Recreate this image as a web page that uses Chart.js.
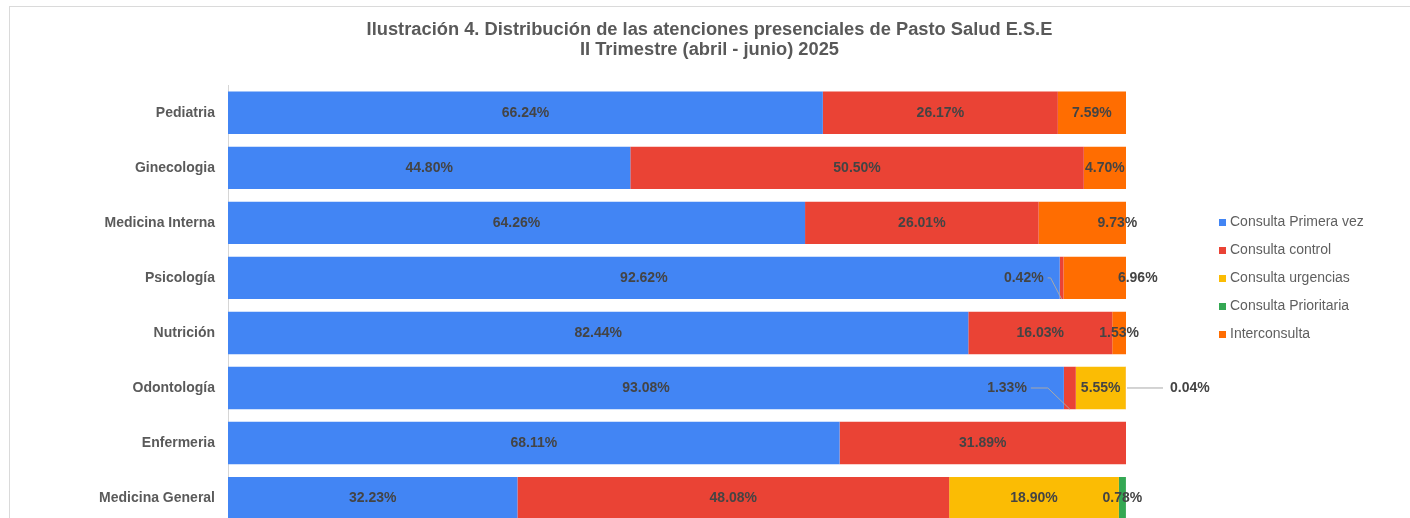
<!DOCTYPE html>
<html lang="es">
<head>
<meta charset="utf-8">
<title>Distribución de las atenciones presenciales</title>
<script src="https://cdn.jsdelivr.net/npm/chart.js@4.4.1/dist/chart.umd.min.js"></script>
<style>
  html, body { margin: 0; padding: 0; overflow: hidden; background: #fff; }
  #frame { position: absolute; left: 9px; top: 6px; width: 1401px; height: 540px;
           border-top: 1px solid #dadada; border-left: 1px solid #dadada; }
  #chart { position: absolute; left: 0; top: 0; }
</style>
</head>
<body>
<div id="frame"></div>
<canvas id="chart" width="1410" height="547"></canvas>
<script>
// -------------------- Data --------------------
const categories = ['Pediatria', 'Ginecologia', 'Medicina Interna', 'Psicología',
  'Nutrición', 'Odontología', 'Enfermeria', 'Medicina General'];

const primeraVez    = [66.24, 44.80, 64.26, 92.62, 82.44, 93.08, 68.11, 32.23];
const control       = [26.17, 50.50, 26.01, 0.42, 16.03, 1.33, 31.89, 48.08];
const urgencias     = [null, null, null, null, null, 5.55, null, 18.90];
const prioritaria   = [null, null, null, null, null, null, null, 0.78];
const interconsulta = [7.59, 4.70, 9.73, 6.96, 1.53, 0.04, null, null];

const seriesNames = ['Consulta Primera vez', 'Consulta control', 'Consulta urgencias',
  'Consulta Prioritaria', 'Interconsulta'];
const seriesValues = [primeraVez, control, urgencias, prioritaria, interconsulta];
const seriesColors = ['#4285F4', '#EA4335', '#FBBC04', '#34A853', '#FF6D01'];

const FONT = '"Liberation Sans", Arial, sans-serif';

// -------------------- Label placement tweaks --------------------
// key = datasetIndex:categoryIndex
const nudges = { '4:2': 35, '4:3': 43 };
const callouts = {
  '1:3': { side: 'left', dx: -18, elbow: -11 },
  '1:5': { side: 'left', dx: -43, elbow: -22 },
  '4:5': { side: 'right', len: 37 }
};

// -------------------- Plugins --------------------
const segmentLabels = {
  id: 'segmentLabels',
  afterDatasetsDraw(chart) {
    const ctx = chart.ctx;
    ctx.save();
    ctx.font = 'bold 14px ' + FONT;
    ctx.textBaseline = 'middle';
    ctx.strokeStyle = '#a8a8a8';
    ctx.lineWidth = 1;
    chart.data.datasets.forEach((ds, di) => {
      const meta = chart.getDatasetMeta(di);
      meta.data.forEach((bar, i) => {
        const v = ds.data[i];
        if (v == null) return;
        const { x, y, base, height } = bar.getProps(['x', 'y', 'base', 'height'], true);
        const mid = (x + base) / 2;
        const text = v.toFixed(2) + '%';
        const key = di + ':' + i;
        const c = callouts[key];
        ctx.fillStyle = '#444';
        if (c && c.side === 'left') {
          const right = mid + c.dx;
          ctx.beginPath();
          ctx.moveTo(right + 4, y);
          ctx.lineTo(mid + c.elbow, y);
          ctx.lineTo(mid, y + height / 2);
          ctx.stroke();
          ctx.textAlign = 'right';
          ctx.fillText(text, right, y);
        } else if (c && c.side === 'right') {
          const end = Math.max(x, base);
          ctx.beginPath();
          ctx.moveTo(end + 1, y);
          ctx.lineTo(end + c.len, y);
          ctx.stroke();
          ctx.textAlign = 'left';
          ctx.fillText(text, end + c.len + 7, y);
        } else {
          ctx.textAlign = 'center';
          ctx.fillText(text, mid + (nudges[key] || 0), y);
        }
      });
    });
    ctx.restore();
  }
};

const sideLegend = {
  id: 'sideLegend',
  afterDraw(chart) {
    const { ctx, chartArea } = chart;
    const x = chartArea.right + 93;
    let y = chartArea.top + 137;
    ctx.save();
    ctx.font = '14px ' + FONT;
    ctx.textBaseline = 'middle';
    ctx.textAlign = 'left';
    chart.data.datasets.forEach(ds => {
      ctx.fillStyle = ds.backgroundColor;
      ctx.fillRect(x, Math.round(y - 3.5), 7, 7);
      ctx.fillStyle = '#5f5f5f';
      ctx.fillText(ds.label, x + 11, y);
      y += 28;
    });
    ctx.restore();
  }
};

// -------------------- Chart --------------------
new Chart(document.getElementById('chart'), {
  type: 'bar',
  data: {
    labels: categories,
    datasets: seriesNames.map((name, i) => ({
      label: name,
      data: seriesValues[i],
      backgroundColor: seriesColors[i],
      borderWidth: 0,
      categoryPercentage: 0.77,
      barPercentage: 1,
      xAxisID: 'x',
      yAxisID: 'y'
    }))
  },
  options: {
    indexAxis: 'y',
    responsive: false,
    animation: false,
    layout: { padding: { top: 9, left: 14, right: 5, bottom: 0 } },
    plugins: {
      legend: { display: false },
      tooltip: { enabled: false },
      title: {
        display: true,
        text: ['Ilustración 4. Distribución de las atenciones presenciales de Pasto Salud E.S.E',
               'II Trimestre (abril - junio) 2025'],
        color: '#595959',
        font: { family: FONT, size: 18.3, weight: 'bold', lineHeight: 1.1 },
        padding: { top: 11, bottom: 25 }
      }
    },
    scales: {
      x: { stacked: true, display: false, min: 0, max: 100 },
      y: {
        stacked: true,
        grid: { display: false, drawTicks: false },
        border: { display: true, color: '#d6d6d6' },
        ticks: { color: '#5a5a5a', padding: 13, font: { family: FONT, size: 14, weight: 'bold' } },
        afterFit(scale) { scale.width = 214; }
      },
      legendSpace: {
        axis: 'y',
        position: 'right',
        grid: { display: false, drawTicks: false },
        border: { display: false },
        ticks: { display: false },
        afterFit(scale) { scale.width = 279; }
      }
    }
  },
  plugins: [segmentLabels, sideLegend]
});
</script>
</body>
</html>
